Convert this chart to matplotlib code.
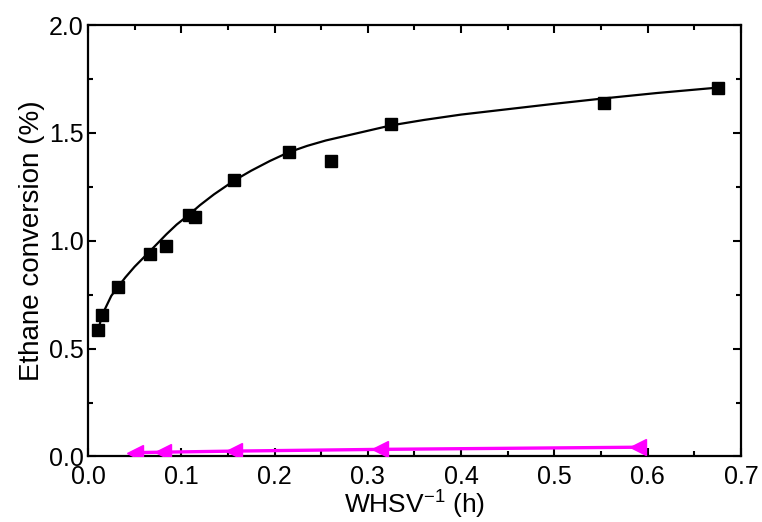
import matplotlib.pyplot as plt
from matplotlib.ticker import MultipleLocator

plt.rcParams['font.family'] = ['Liberation Sans', 'DejaVu Sans']
plt.rcParams['mathtext.fontset'] = 'custom'
plt.rcParams['mathtext.rm'] = 'Liberation Sans'

# measured ethane conversion (black squares)
whsv_inv = [0.011, 0.015, 0.032, 0.066, 0.084, 0.108, 0.115, 0.157,
            0.215, 0.260, 0.325, 0.553, 0.675]
conversion = [0.585, 0.655, 0.785, 0.94, 0.975, 1.12, 1.11, 1.28,
              1.41, 1.37, 1.54, 1.64, 1.71]

# smoothed trend line
curve_x = [0.011, 0.015, 0.020, 0.025, 0.032, 0.040, 0.050, 0.066,
           0.075, 0.084, 0.095, 0.108, 0.12, 0.135, 0.157, 0.175,
           0.195, 0.215, 0.235, 0.255, 0.275, 0.30, 0.325, 0.36,
           0.40, 0.45, 0.50, 0.553, 0.61, 0.675]
curve_y = [0.585, 0.655, 0.70, 0.745, 0.785, 0.83, 0.88, 0.95,
           0.99, 1.03, 1.075, 1.12, 1.165, 1.215, 1.28, 1.325,
           1.37, 1.41, 1.44, 1.465, 1.485, 1.51, 1.535, 1.56,
           1.585, 1.61, 1.635, 1.66, 1.685, 1.71]

# second series (magenta triangles)
whsv_inv2 = [0.050, 0.080, 0.156, 0.313, 0.590]
conversion2 = [0.018, 0.020, 0.025, 0.033, 0.043]

fig, ax = plt.subplots(figsize=(7.62, 5.22), dpi=100)
fig.subplots_adjust(left=0.1155, right=0.9724, top=0.952, bottom=0.1255)

ax.plot(curve_x, curve_y, color='black', lw=1.6, zorder=2)
ax.plot(whsv_inv, conversion, ls='none', marker='s', ms=9,
        color='black', zorder=3)

ax.plot(whsv_inv2, conversion2, color='#ff00ff', lw=2.4,
        marker='<', ms=12, zorder=3)

ax.set_xlim(0, 0.7)
ax.set_ylim(0, 2.0)
ax.xaxis.set_major_locator(MultipleLocator(0.1))
ax.xaxis.set_minor_locator(MultipleLocator(0.05))
ax.yaxis.set_major_locator(MultipleLocator(0.5))
ax.yaxis.set_minor_locator(MultipleLocator(0.25))
ax.xaxis.set_major_formatter(plt.FormatStrFormatter('%.1f'))
ax.yaxis.set_major_formatter(plt.FormatStrFormatter('%.1f'))

ax.tick_params(which='both', direction='in', top=True, right=True,
               width=1.5, labelsize=18)
ax.tick_params(which='major', length=6)
ax.tick_params(axis='x', which='major', pad=6)
ax.tick_params(axis='y', which='major', pad=3)
ax.tick_params(which='minor', length=3.5)
for s in ax.spines.values():
    s.set_linewidth(1.6)

ax.set_xlabel(r'WHSV$^{\mathrm{-1}}$ (h)', fontsize=19, labelpad=-1)
ax.set_ylabel('Ethane conversion (%)', fontsize=20, labelpad=3)

plt.savefig('out.png', dpi=100)
